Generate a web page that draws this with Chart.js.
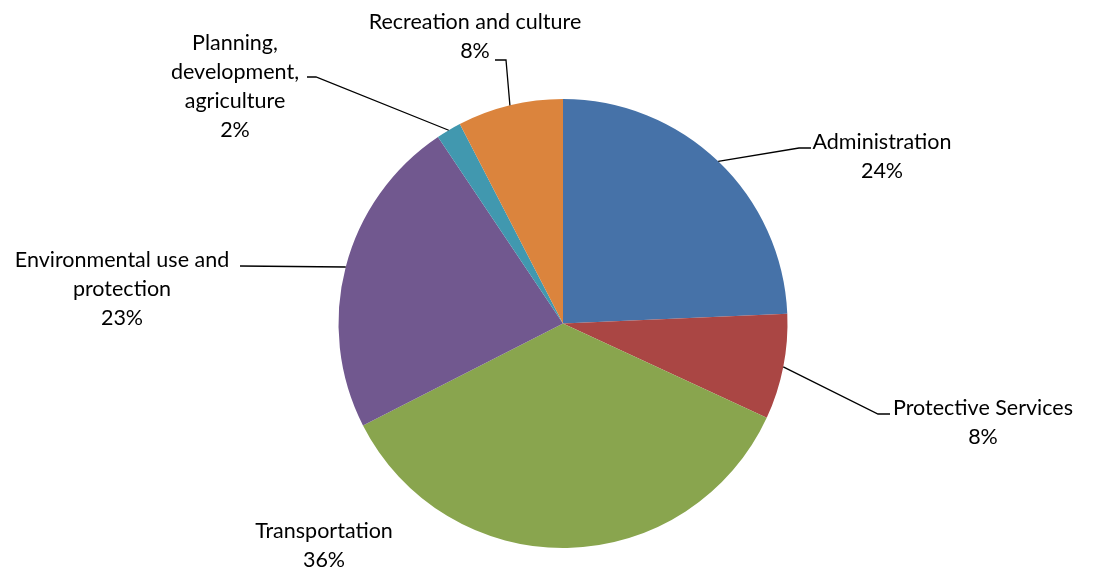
<!DOCTYPE html>
<html>
<head>
<meta charset="utf-8">
<script src="https://cdn.jsdelivr.net/npm/chart.js@4/dist/chart.umd.min.js"></script>
<style>
  html, body { margin: 0; padding: 0; background: #fff; }
  #wrap { width: 1094px; height: 570px; position: relative; }
</style>
</head>
<body>
<div id="wrap"><canvas id="budgetChart"></canvas></div>
<script>
// Spending by function, share of total (%)
const categories = [
    "Administration",
    "Protective Services",
    "Transportation",
    "Environmental use and\nprotection",
    "Planning,\ndevelopment,\nagriculture",
    "Recreation and culture"
];
const shares = [24.3, 7.6, 35.6, 23.1, 1.8, 7.6];
const colors = ["#4672a8", "#aa4644", "#89a54e", "#71588f", "#4198af", "#db843d"];

// where each label sits: text centre, first line y, leader elbow and end (null = no leader)
const labelSpots = [
    { x: 882, y: 142, elbow: [799, 148], end: [811, 148] },
    { x: 983, y: 408, elbow: [878, 414], end: [890, 414] },
    { x: 324, y: 531, elbow: null, end: null },
    { x: 122, y: 260, elbow: [240, 266], end: [240, 266] },
    { x: 235, y: 43, elbow: [316, 77], end: [307, 77] },
    { x: 475, y: 22, elbow: [506, 60], end: [495, 60] }
];

const FONT = "21.5px Lato";
const LINE_H = 29;

// Draws the outside labels with their leader lines
const pieLabels = {
    id: "pieLabels",
    afterDraw(chart) {
        const ctx = chart.ctx;
        const arcs = chart.getDatasetMeta(0).data;
        const data = chart.data.datasets[0].data;
        const total = data.reduce((a, b) => a + b, 0);
        ctx.save();
        ctx.strokeStyle = "#000";
        ctx.lineWidth = 1.3;
        arcs.forEach((arc, i) => {
            const spot = labelSpots[i];
            if (spot.elbow) {
                const mid = (arc.startAngle + arc.endAngle) / 2;
                const sx = arc.x + Math.cos(mid) * arc.outerRadius;
                const sy = arc.y + Math.sin(mid) * arc.outerRadius;
                ctx.beginPath();
                ctx.moveTo(sx, sy);
                ctx.lineTo(spot.elbow[0], spot.elbow[1]);
                ctx.lineTo(spot.end[0], spot.end[1]);
                ctx.stroke();
            }
            const lines = chart.data.labels[i].split("\n");
            lines.push(Math.round(data[i] / total * 100) + "%");
            ctx.fillStyle = "#000";
            ctx.font = FONT;
            ctx.textAlign = "center";
            ctx.textBaseline = "middle";
            lines.forEach((t, k) => ctx.fillText(t, spot.x, spot.y + k * LINE_H));
        });
        ctx.restore();
    }
};

new Chart(document.getElementById("budgetChart"), {
    type: "pie",
    data: {
        labels: categories,
        datasets: [{
            data: shares,
            backgroundColor: colors,
            borderWidth: 0
        }]
    },
    options: {
        responsive: true,
        maintainAspectRatio: false,
        animation: false,
        layout: { padding: { left: 338, right: 306, top: 99, bottom: 22 } },
        plugins: {
            legend: { display: false },
            tooltip: { enabled: false }
        }
    },
    plugins: [pieLabels]
});
</script>
</body>
</html>
